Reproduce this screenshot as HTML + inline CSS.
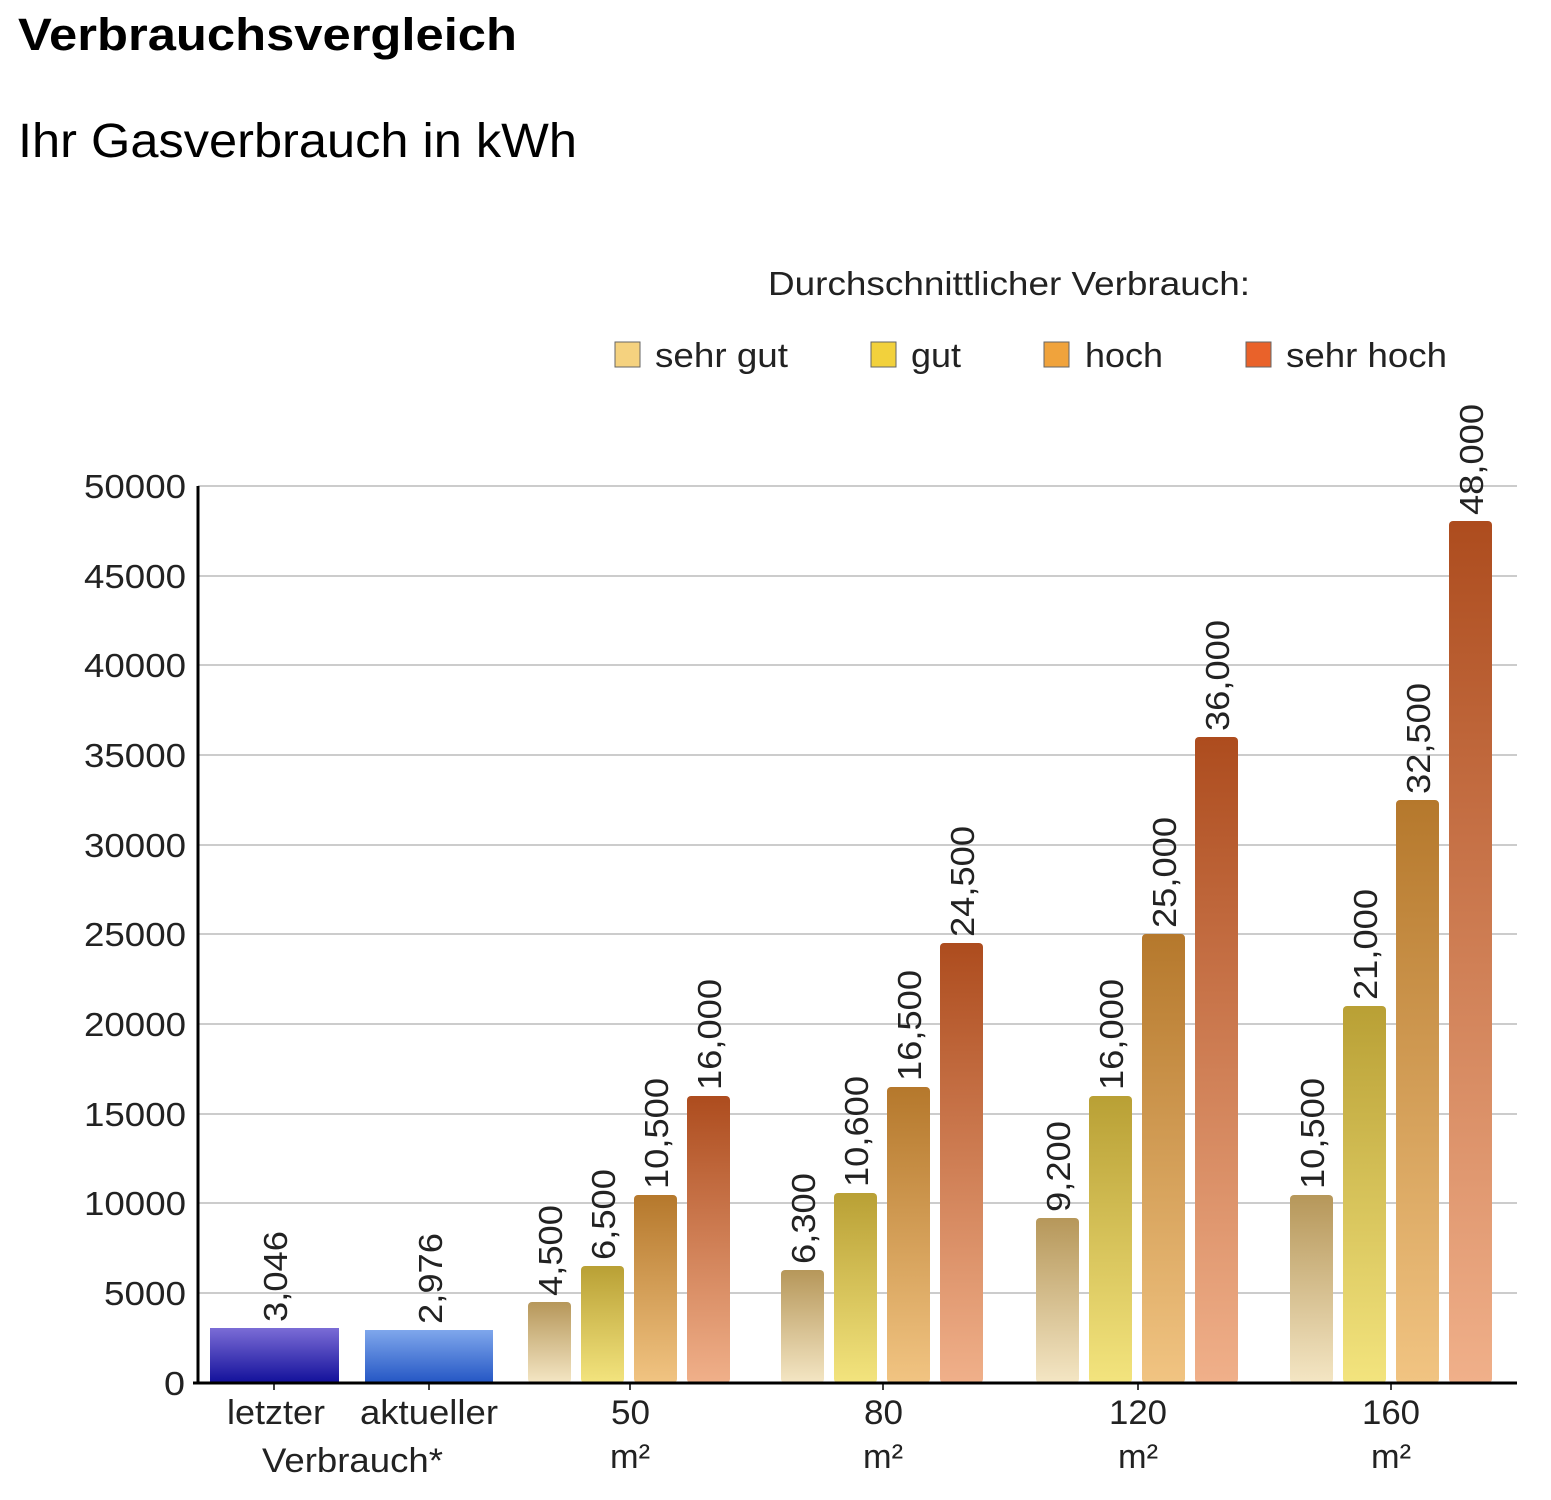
<!DOCTYPE html>
<html><head><meta charset="utf-8"><style>
body{margin:0;background:#fff;}
svg{display:block;font-family:"Liberation Sans",sans-serif;}
</style></head><body>
<svg width="1551" height="1500" xmlns="http://www.w3.org/2000/svg">
<defs>
<linearGradient id="g1" x1="0" y1="0" x2="0" y2="1"><stop offset="0" stop-color="#b6975a"/><stop offset="1" stop-color="#f4e6c4"/></linearGradient>
<linearGradient id="g2" x1="0" y1="0" x2="0" y2="1"><stop offset="0" stop-color="#b9a035"/><stop offset="1" stop-color="#f3e47e"/></linearGradient>
<linearGradient id="g3" x1="0" y1="0" x2="0" y2="1"><stop offset="0" stop-color="#b5782c"/><stop offset="1" stop-color="#f1c482"/></linearGradient>
<linearGradient id="g4" x1="0" y1="0" x2="0" y2="1"><stop offset="0" stop-color="#ad4c1e"/><stop offset="1" stop-color="#f0b08a"/></linearGradient>
<linearGradient id="b1" x1="0" y1="0" x2="0" y2="1"><stop offset="0" stop-color="#7b6cd6"/><stop offset="1" stop-color="#12109a"/></linearGradient>
<linearGradient id="b2" x1="0" y1="0" x2="0" y2="1"><stop offset="0" stop-color="#7fa7ec"/><stop offset="1" stop-color="#2456c4"/></linearGradient>
</defs>
<text x="18" y="50" font-size="45" font-weight="bold" textLength="499" lengthAdjust="spacingAndGlyphs">Verbrauchsvergleich</text>
<text x="18" y="157" font-size="48" textLength="559" lengthAdjust="spacingAndGlyphs">Ihr Gasverbrauch in kWh</text>
<text x="768" y="295" font-size="33" fill="#222" textLength="482" lengthAdjust="spacingAndGlyphs">Durchschnittlicher Verbrauch:</text>
<g font-size="34" fill="#222">
<rect x="615" y="342" width="25" height="25" fill="#f5d27f" stroke="#666"/><text x="655" y="367" textLength="133" lengthAdjust="spacingAndGlyphs">sehr gut</text>
<rect x="871" y="342" width="25" height="25" fill="#f2d13c" stroke="#666"/><text x="911" y="367" textLength="50" lengthAdjust="spacingAndGlyphs">gut</text>
<rect x="1044" y="342" width="25" height="25" fill="#f0a33c" stroke="#666"/><text x="1085" y="367" textLength="78" lengthAdjust="spacingAndGlyphs">hoch</text>
<rect x="1246" y="342" width="25" height="25" fill="#e9622a" stroke="#666"/><text x="1286" y="367" textLength="161" lengthAdjust="spacingAndGlyphs">sehr hoch</text>
</g>
<g stroke="#bbb" stroke-width="1.5">
<line x1="198" y1="486" x2="1517" y2="486"/><line x1="198" y1="576" x2="1517" y2="576"/>
<line x1="198" y1="665" x2="1517" y2="665"/><line x1="198" y1="755" x2="1517" y2="755"/>
<line x1="198" y1="845" x2="1517" y2="845"/><line x1="198" y1="934" x2="1517" y2="934"/>
<line x1="198" y1="1024" x2="1517" y2="1024"/><line x1="198" y1="1114" x2="1517" y2="1114"/>
<line x1="198" y1="1203" x2="1517" y2="1203"/><line x1="198" y1="1293" x2="1517" y2="1293"/>
</g>
<rect x="190" y="1384" width="1361" height="116" fill="#fff"/>
<g font-size="33" fill="#222">
<text x="84" y="498" textLength="102" lengthAdjust="spacingAndGlyphs">50000</text>
<text x="84" y="588" textLength="102" lengthAdjust="spacingAndGlyphs">45000</text>
<text x="84" y="677" textLength="102" lengthAdjust="spacingAndGlyphs">40000</text>
<text x="84" y="767" textLength="102" lengthAdjust="spacingAndGlyphs">35000</text>
<text x="84" y="857" textLength="102" lengthAdjust="spacingAndGlyphs">30000</text>
<text x="84" y="946" textLength="102" lengthAdjust="spacingAndGlyphs">25000</text>
<text x="84" y="1036" textLength="102" lengthAdjust="spacingAndGlyphs">20000</text>
<text x="84" y="1126" textLength="102" lengthAdjust="spacingAndGlyphs">15000</text>
<text x="84" y="1215" textLength="102" lengthAdjust="spacingAndGlyphs">10000</text>
<text x="104" y="1305" textLength="82" lengthAdjust="spacingAndGlyphs">5000</text>
<text x="164" y="1395" textLength="21" lengthAdjust="spacingAndGlyphs">0</text>
</g>
<rect x="210" y="1328" width="129" height="55" fill="url(#b1)"/>
<rect x="365" y="1330" width="128" height="53" fill="url(#b2)"/>
<g>
<rect x="528" y="1302" width="43" height="81" rx="4" fill="url(#g1)"/>
<rect x="581" y="1266" width="43" height="117" rx="4" fill="url(#g2)"/>
<rect x="634" y="1195" width="43" height="188" rx="4" fill="url(#g3)"/>
<rect x="687" y="1096" width="43" height="287" rx="4" fill="url(#g4)"/>
<rect x="781" y="1270" width="43" height="113" rx="4" fill="url(#g1)"/>
<rect x="834" y="1193" width="43" height="190" rx="4" fill="url(#g2)"/>
<rect x="887" y="1087" width="43" height="296" rx="4" fill="url(#g3)"/>
<rect x="940" y="943" width="43" height="440" rx="4" fill="url(#g4)"/>
<rect x="1036" y="1218" width="43" height="165" rx="4" fill="url(#g1)"/>
<rect x="1089" y="1096" width="43" height="287" rx="4" fill="url(#g2)"/>
<rect x="1142" y="934" width="43" height="449" rx="4" fill="url(#g3)"/>
<rect x="1195" y="737" width="43" height="646" rx="4" fill="url(#g4)"/>
<rect x="1290" y="1195" width="43" height="188" rx="4" fill="url(#g1)"/>
<rect x="1343" y="1006" width="43" height="377" rx="4" fill="url(#g2)"/>
<rect x="1396" y="800" width="43" height="583" rx="4" fill="url(#g3)"/>
<rect x="1449" y="521" width="43" height="862" rx="4" fill="url(#g4)"/>
</g>
<line x1="198" y1="486" x2="198" y2="1384" stroke="#000" stroke-width="3"/>
<line x1="193" y1="1383" x2="1517" y2="1383" stroke="#000" stroke-width="3"/>
<g stroke="#000" stroke-width="1.5">
<line x1="274" y1="1383" x2="274" y2="1390"/><line x1="429" y1="1383" x2="429" y2="1390"/>
<line x1="630" y1="1383" x2="630" y2="1390"/><line x1="883" y1="1383" x2="883" y2="1390"/>
<line x1="1138" y1="1383" x2="1138" y2="1390"/><line x1="1391" y1="1383" x2="1391" y2="1390"/>
</g>
<g font-size="33" fill="#222">
<text transform="translate(287,1322) rotate(-90)" textLength="91" lengthAdjust="spacingAndGlyphs">3,046</text>
<text transform="translate(442,1324) rotate(-90)" textLength="91" lengthAdjust="spacingAndGlyphs">2,976</text>
<text transform="translate(562,1296) rotate(-90)" textLength="91" lengthAdjust="spacingAndGlyphs">4,500</text>
<text transform="translate(615,1260) rotate(-90)" textLength="91" lengthAdjust="spacingAndGlyphs">6,500</text>
<text transform="translate(668,1189) rotate(-90)" textLength="111" lengthAdjust="spacingAndGlyphs">10,500</text>
<text transform="translate(721,1090) rotate(-90)" textLength="111" lengthAdjust="spacingAndGlyphs">16,000</text>
<text transform="translate(815,1264) rotate(-90)" textLength="91" lengthAdjust="spacingAndGlyphs">6,300</text>
<text transform="translate(868,1187) rotate(-90)" textLength="111" lengthAdjust="spacingAndGlyphs">10,600</text>
<text transform="translate(921,1081) rotate(-90)" textLength="111" lengthAdjust="spacingAndGlyphs">16,500</text>
<text transform="translate(974,937) rotate(-90)" textLength="111" lengthAdjust="spacingAndGlyphs">24,500</text>
<text transform="translate(1070,1212) rotate(-90)" textLength="91" lengthAdjust="spacingAndGlyphs">9,200</text>
<text transform="translate(1123,1090) rotate(-90)" textLength="111" lengthAdjust="spacingAndGlyphs">16,000</text>
<text transform="translate(1176,928) rotate(-90)" textLength="111" lengthAdjust="spacingAndGlyphs">25,000</text>
<text transform="translate(1229,731) rotate(-90)" textLength="111" lengthAdjust="spacingAndGlyphs">36,000</text>
<text transform="translate(1324,1189) rotate(-90)" textLength="111" lengthAdjust="spacingAndGlyphs">10,500</text>
<text transform="translate(1377,1000) rotate(-90)" textLength="111" lengthAdjust="spacingAndGlyphs">21,000</text>
<text transform="translate(1430,794) rotate(-90)" textLength="111" lengthAdjust="spacingAndGlyphs">32,500</text>
<text transform="translate(1483,515) rotate(-90)" textLength="111" lengthAdjust="spacingAndGlyphs">48,000</text>
</g>
<g font-size="34" fill="#222">
<text x="227" y="1424" textLength="98" lengthAdjust="spacingAndGlyphs">letzter</text>
<text x="360" y="1424" textLength="138" lengthAdjust="spacingAndGlyphs">aktueller</text>
<text x="262" y="1472" textLength="181" lengthAdjust="spacingAndGlyphs">Verbrauch*</text>
<text x="611" y="1424" textLength="39" lengthAdjust="spacingAndGlyphs">50</text><text x="610" y="1468" textLength="40" lengthAdjust="spacingAndGlyphs">m²</text>
<text x="864" y="1424" textLength="39" lengthAdjust="spacingAndGlyphs">80</text><text x="863" y="1468" textLength="40" lengthAdjust="spacingAndGlyphs">m²</text>
<text x="1109" y="1424" textLength="58" lengthAdjust="spacingAndGlyphs">120</text><text x="1118" y="1468" textLength="40" lengthAdjust="spacingAndGlyphs">m²</text>
<text x="1362" y="1424" textLength="58" lengthAdjust="spacingAndGlyphs">160</text><text x="1371" y="1468" textLength="40" lengthAdjust="spacingAndGlyphs">m²</text>
</g>
</svg>
</body></html>
